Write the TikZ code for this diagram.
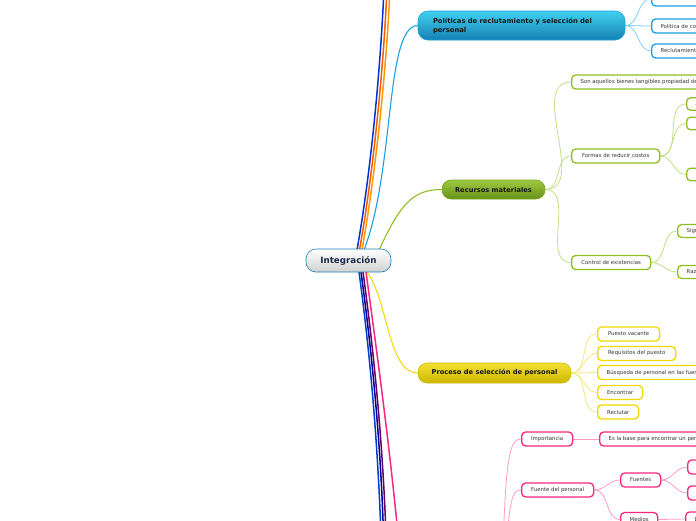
\documentclass[tikz,border=0pt]{standalone}
\usepackage{fontspec}
\setmainfont{DejaVu Sans}
\usetikzlibrary{backgrounds}
\definecolor{cBlue}{HTML}{1AA0E0}
\definecolor{cBlueL}{HTML}{7FCDF2}
\definecolor{cGreen}{HTML}{8CC020}
\definecolor{cGreenL}{HTML}{C2DE86}
\definecolor{cYel}{HTML}{F0D800}
\definecolor{cYelL}{HTML}{F6E77A}
\definecolor{cPink}{HTML}{F5287E}
\definecolor{cPinkL}{HTML}{FF9CC6}
\definecolor{cNavy}{HTML}{1A2A4A}
\begin{document}
\begin{tikzpicture}[x=1pt,y=-1pt,
  childbox/.style={draw, rounded corners=4pt, fill=white, line width=1.3pt,
    minimum height=14pt, inner xsep=9pt, inner ysep=0pt,
    font=\fontsize{5.35}{6.4}\selectfont, text=black!80, anchor=west},
  bluec/.style={childbox, draw=cBlue},
  greenc/.style={childbox, draw=cGreen},
  yelc/.style={childbox, draw=cYel},
  pinkc/.style={childbox, draw=cPink},
  mainbox/.style={draw, rounded corners=9pt, line width=0.6pt, inner sep=0pt,
    font=\fontsize{6.7}{9}\selectfont\bfseries, text=black!90},
  blink/.style={cBlueL, line width=0.8pt},
  glink/.style={cGreenL, line width=0.8pt},
  ylink/.style={cYelL, line width=0.8pt},
  plink/.style={cPinkL, line width=0.8pt},
  trunk/.style={line width=1.5pt},
]
\clip (0,0) rectangle (696,520);

% central
\node[mainbox, rounded corners=10pt, top color=white, bottom color=black!18, draw=cBlue!80!black,
  minimum width=85pt, minimum height=23pt, font=\fontsize{8.7}{10}\selectfont\bfseries, text=cNavy]
  (cen) at (348.5,260.5) {Integración};

% Politicas
\node[mainbox, rounded corners=10pt, top color=cBlue!60!cyan!80, bottom color=cBlue!80!black,
  draw=cBlue, minimum width=207pt, minimum height=29pt, text width=177pt, align=left,
  font=\fontsize{6.8}{9}\selectfont\bfseries]
  (pol) at (521.5,25.5) {Políticas de reclutamiento y selección del\\personal};
\node[bluec] (asc) at (651,-1) {Ascenso interno};
\node[bluec] (polc) at (651,26) {Política de contratación};
\node[bluec] (recl) at (651,51) {Reclutamiento externo};

% Recursos materiales
\node[mainbox, top color=cGreen!85!white, bottom color=cGreen!75!black, draw=cGreen!85!black,
  minimum width=103pt, minimum height=19pt] (rec) at (493.5,189.5) {Recursos materiales};
\node[greenc] (son) at (571,82) {Son aquellos bienes tangibles propiedad de la empresa};
\node[greenc, minimum width=88pt] (for) at (571,156) {Formas de reducir costos};
\node[greenc, minimum width=79pt] (con) at (571,262.5) {Control de existencias};
\node[greenc, minimum height=12.5pt] (f1) at (686,104) {Adquirir};
\node[greenc, minimum height=12.5pt] (f2) at (686,123.5) {Evitar desperdicios};
\node[greenc, minimum height=12.5pt] (f3) at (686,174.5) {Estandarizar};
\node[greenc, minimum height=13pt] (c1) at (677,231) {Significado};
\node[greenc, minimum height=13pt] (c2) at (677,272) {Razones};

% Proceso de seleccion
\node[mainbox, top color=cYel!80!white, bottom color=cYel!85!black, draw=cYel!85!black,
  minimum width=153pt, minimum height=20pt] (pro) at (494.5,373) {Proceso de selección de personal};
\node[yelc, minimum width=62pt] (y1) at (597,334) {Puesto vacante};
\node[yelc, minimum width=78pt] (y2) at (597,353.5) {Requisitos del puesto};
\node[yelc] (y3) at (597,372.5) {Búsqueda de personal en las fuentes};
\node[yelc, minimum width=45pt] (y4) at (597,392.5) {Encontrar};
\node[yelc, minimum width=41pt] (y5) at (597,412) {Reclutar};

% pink branch
\coordinate (pp) at (503,548);
\coordinate (pp2) at (506,548);
\node[pinkc, minimum width=51pt] (imp) at (521,439) {Importancia};
\node[pinkc] (base) at (599,439) {Es la base para encontrar un personal adecuado};
\node[pinkc, minimum width=72pt] (fue) at (521,490) {Fuente del personal};
\node[pinkc, minimum width=40pt] (fts) at (620,480) {Fuentes};
\node[pinkc, minimum width=37pt] (med) at (620,519.5) {Medios};
\node[pinkc] (fs1) at (687,467) {Internas};
\node[pinkc] (fs2) at (687,493) {Externas};
\node[pinkc] (md1) at (685,519) {Directos};

% off-picture ends
\coordinate (t1) at (384,-12);
\coordinate (t2) at (387,-12);
\coordinate (t3) at (390,-12);
\coordinate (b1) at (381,535);
\coordinate (b2) at (383.5,535);
\coordinate (b3) at (386,535);
\coordinate (b4) at (398,535);

\begin{pgfonlayer}{background}
% trunks from the centre
\draw[trunk, color=blue!75!cyan!80!black] (357,250) .. controls (372,165) and (381,60) .. (t1);
\draw[trunk, color=orange!70!red] (359.5,250) .. controls (374.5,165) and (384,60) .. (t2);
\draw[trunk, color=orange!80!yellow] (362,250) .. controls (377,165) and (387,60) .. (t3);
\draw[line width=1.1pt, cBlue] (364,250) .. controls (395,170) and (385,26) .. (pol.west);
\draw[line width=1.1pt, cGreen] (379,250) .. controls (400,205) and (412,189.5) .. (rec.west);
\draw[line width=1pt, cYel] (367,272) .. controls (388,300) and (388,373) .. (pro.west);
\draw[trunk, color=blue!70!cyan!80!black] (359,272) .. controls (371,360) and (378,450) .. (b1);
\draw[trunk, color=blue!60!black] (361,272) .. controls (373,360) and (381,450) .. (b2);
\draw[trunk, color=violet!80!black] (363,272) .. controls (375,360) and (383,450) .. (b3);
\draw[trunk, color=cPink] (366,272) .. controls (378,360) and (390,450) .. (b4);

% Politicas children
\foreach \n in {asc,polc,recl}
  \draw[blink] (pol.east) to[out=0,in=180] (\n.west);
% Recursos children
\foreach \n in {son,for,con}
  \draw[glink] (rec.east) to[out=0,in=180] (\n.west);
\foreach \n in {f1,f2,f3}
  \draw[glink] (for.east) to[out=0,in=180] (\n.west);
\foreach \n in {c1,c2}
  \draw[glink] (con.east) to[out=0,in=180] (\n.west);
% Proceso children
\foreach \n in {y1,y2,y3,y4,y5}
  \draw[ylink] (pro.east) to[out=0,in=180] (\n.west);
% pink children
\draw[plink] (pp) .. controls (506,455) and (510,439) .. (imp.west);
\draw[plink] (pp2) .. controls (510,500) and (512,490) .. (fue.west);
\draw[plink] (imp.east) -- (base.west);
\foreach \n in {fts,med}
  \draw[plink] (fue.east) to[out=0,in=180] (\n.west);
\foreach \n in {fs1,fs2}
  \draw[plink] (fts.east) to[out=0,in=180] (\n.west);
\draw[plink] (med.east) -- (md1.west);
\end{pgfonlayer}
\end{tikzpicture}
\end{document}
